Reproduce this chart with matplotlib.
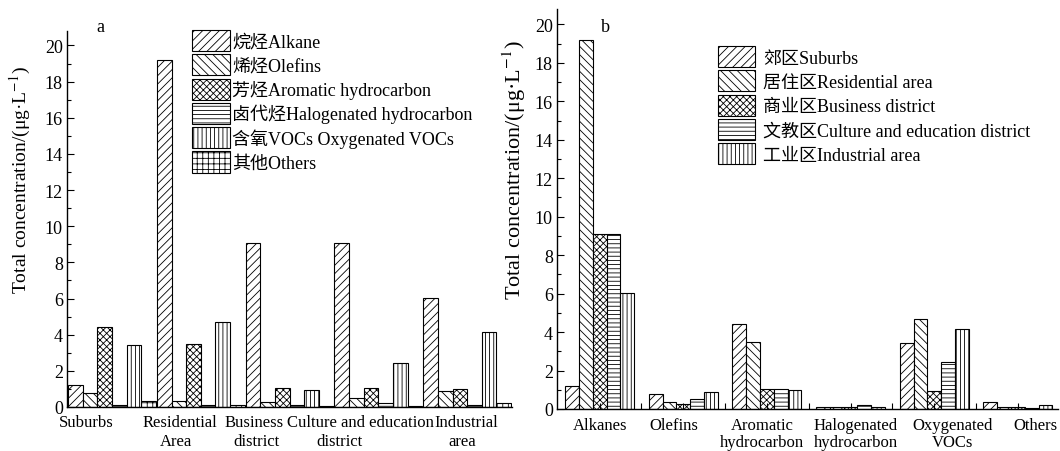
import matplotlib
matplotlib.use("Agg")
import matplotlib.pyplot as plt
import numpy as np
from matplotlib.transforms import blended_transform_factory

# ---------------- data ----------------
areas_a = ["Suburbs", "Residential\nArea", "Business\ndistrict",
           "Culture and education\ndistrict", "Industrial\narea"]
compounds_b = ["Alkanes", "Olefins", "Aromatic\nhydrocarbon",
               "Halogenated\nhydrocarbon", "Oxygenated\nVOCs", "Others"]
compound_legend = ["烷烃Alkane", "烯烃Olefins", "芳烃Aromatic hydrocarbon",
                   "卤代烃Halogenated hydrocarbon", "含氧VOCs Oxygenated VOCs", "其他Others"]
area_legend = ["郊区Suburbs", "居住区Residential area", "商业区Business district",
               "文教区Culture and education district", "工业区Industrial area"]

# concentration per compound class, ordered by area (Suburbs, Residential, Business, Culture, Industrial)
alkane = [1.2, 19.2, 9.1, 9.1, 6.05]
olefins = [0.8, 0.35, 0.28, 0.5, 0.88]
aromatic = [4.4, 3.5, 1.05, 1.05, 0.97]
halogenated = [0.1, 0.1, 0.1, 0.2, 0.1]
oxygenated = [3.45, 4.7, 0.95, 2.45, 4.15]
others = [0.35, 0.12, 0.08, 0.05, 0.22]

ylabel = r"Total concentration/(μg·L$^{-1}$)"

# ---------------- style ----------------
plt.rcParams["font.family"] = ["Liberation Serif", "Noto Sans CJK SC"]
plt.rcParams["mathtext.fontset"] = "stix"
plt.rcParams["hatch.linewidth"] = 0.6
FS = 12      # category labels
FS_T = 13    # tick labels
FS_L = 13    # legend

series = [alkane, olefins, aromatic, halogenated, oxygenated, others]
hatches_a = ["////", "\\\\\\\\", "xxxxx", "----", "||||", "+++"]
hatches_b = ["////", "\\\\\\\\", "xxxxx", "----", "||||"]

W, H = 1060, 452
fig = plt.figure(figsize=(W / 100, H / 100), dpi=100)

# ---------------- panel a ----------------
axA = fig.add_axes([67 / W, 1 - 408 / H, (512 - 67) / W, (408 - 32) / H])
bw_a = 0.165
gx = np.arange(len(areas_a))
handles_a = []
for j, vals in enumerate(series):
    bars = axA.bar(gx + j * bw_a, vals, width=bw_a, align="edge",
                   facecolor="white", edgecolor="black", linewidth=0.8,
                   hatch=hatches_a[j], label=compound_legend[j])
    handles_a.append(bars)
axA.set_xlim(-0.012, 5.0)
axA.set_ylim(0, 20.8)
axA.set_yticks(np.arange(0, 21, 2))
axA.set_yticks(np.arange(0, 21, 1), minor=True)
axA.tick_params(axis="y", direction="in", length=5, width=0.8, labelsize=FS_T, pad=3)
axA.tick_params(axis="y", which="minor", direction="in", length=3, width=0.8)
axA.set_xticks([])
for s in ["top", "right"]:
    axA.spines[s].set_visible(False)
for s in ["left", "bottom"]:
    axA.spines[s].set_linewidth(1.0)
axA.set_ylabel(ylabel, fontsize=14)
axA.yaxis.set_label_coords(-0.076, 0.605)

# label positions (data units) for first and second lines
line1_pos_a = [0.21, 1.26, 2.10, 3.29, 4.49]
line2_pos_a = [None, 1.22, 2.12, 3.06, 4.44]
trA = blended_transform_factory(axA.transData, axA.transAxes)
for name, p1, p2 in zip(areas_a, line1_pos_a, line2_pos_a):
    parts = name.split("\n")
    axA.annotate(parts[0], xy=(p1, 0), xycoords=trA, xytext=(0, -5),
                 textcoords="offset points", ha="center", va="top", fontsize=FS)
    if len(parts) > 1:
        axA.annotate(parts[1], xy=(p2, 0), xycoords=trA, xytext=(0, -19),
                     textcoords="offset points", ha="center", va="top", fontsize=FS)
axA.text(100 / W, 1 - 28 / H, "a", transform=fig.transFigure, fontsize=FS_T,
         ha="center", va="center")
fig.legend(handles=handles_a, labels=compound_legend, loc="upper left",
           bbox_to_anchor=(192 / W, 1 - 31 / H), bbox_transform=fig.transFigure,
           frameon=False, fontsize=FS_L, handlelength=2.1, handleheight=1.43,
           labelspacing=0.17, handletextpad=0.12, borderpad=0, borderaxespad=0)

# ---------------- panel b ----------------
axB = fig.add_axes([557 / W, 1 - 410 / H, (1058 - 557) / W, (410 - 10) / H])
bw_b = 0.165
cx = np.arange(len(compounds_b))
areas_vals = np.array(series).T  # rows = areas, cols = compounds
handles_b = []
n_area = areas_vals.shape[0]
for k in range(n_area):
    bars = axB.bar(cx + (k - (n_area - 1) / 2) * bw_b, areas_vals[k], width=bw_b,
                   facecolor="white", edgecolor="black", linewidth=0.8,
                   hatch=hatches_b[k], label=area_legend[k])
    handles_b.append(bars)
axB.set_xlim(-0.51, 5.48)
axB.set_ylim(0, 20.8)
axB.set_yticks(np.arange(0, 21, 2))
axB.set_yticks(np.arange(0, 21, 1), minor=True)
axB.tick_params(axis="y", direction="in", length=5, width=0.8, labelsize=FS_T, pad=3)
axB.tick_params(axis="y", which="minor", direction="in", length=3, width=0.8)
axB.set_xticks(cx)
axB.set_xticklabels([])
axB.set_xticks(cx[:-1] + 0.5, minor=True)
axB.tick_params(axis="x", which="both", direction="in", length=4, width=0.8)
for s in ["top", "right"]:
    axB.spines[s].set_visible(False)
for s in ["left", "bottom"]:
    axB.spines[s].set_linewidth(1.0)
axB.set_ylabel(ylabel, fontsize=16)
axB.yaxis.set_label_coords(-0.058, 0.6)

label_pos_b = [0.0, 0.89, 1.94, 3.06, 4.22, 5.21]
trB = blended_transform_factory(axB.transData, axB.transAxes)
for name, p in zip(compounds_b, label_pos_b):
    axB.annotate(name, xy=(p, 0), xycoords=trB, xytext=(0, -6),
                 textcoords="offset points", ha="center", va="top", fontsize=FS,
                 linespacing=1.05)
axB.text(605 / W, 1 - 28 / H, "b", transform=fig.transFigure, fontsize=FS_T,
         ha="center", va="center")
fig.legend(handles=handles_b, labels=area_legend, loc="upper left",
           bbox_to_anchor=(718 / W, 1 - 47 / H), bbox_transform=fig.transFigure,
           frameon=False, fontsize=FS_L, handlelength=2.05, handleheight=1.43,
           labelspacing=0.17, handletextpad=0.45, borderpad=0, borderaxespad=0)

fig.savefig("out.png", dpi=100)
